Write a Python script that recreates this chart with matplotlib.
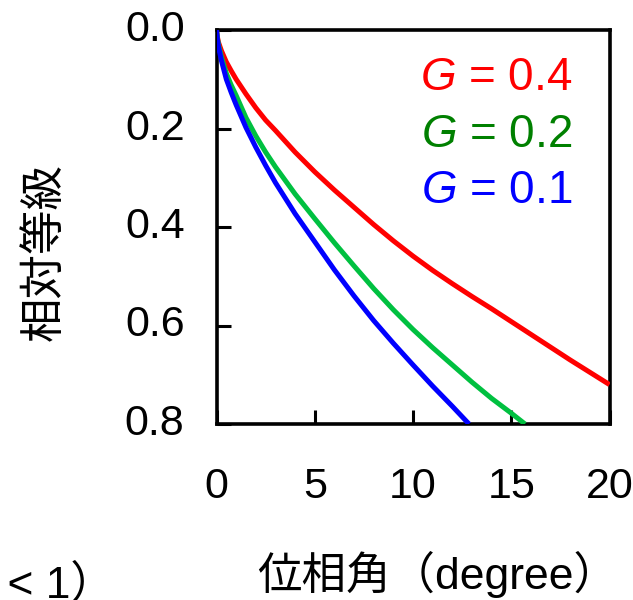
import matplotlib
matplotlib.use("Agg")
import matplotlib.pyplot as plt

# Data
x_red = [0, 0.05, 0.1, 0.25, 0.5, 0.75, 1, 1.5, 2, 2.5, 3, 4, 5, 6, 7, 8, 9, 10, 11, 12, 13, 14, 15, 16, 17, 18, 19, 20]
y_red = [0, 0.015, 0.025, 0.042, 0.065, 0.083, 0.1, 0.13, 0.158, 0.183, 0.204, 0.248, 0.288,
         0.325, 0.36, 0.395, 0.428, 0.459, 0.488, 0.515, 0.541, 0.566, 0.592, 0.618, 0.644, 0.67, 0.695, 0.72]

x_green = [0, 0.05, 0.1, 0.25, 0.5, 0.75, 1, 1.5, 2, 2.5, 3, 4, 5, 6, 7, 8, 9, 10, 11, 12, 13, 14, 15, 15.7]
y_green = [0, 0.018, 0.03, 0.055, 0.088, 0.112, 0.133, 0.178, 0.215, 0.248, 0.278, 0.333, 0.383, 0.432,
           0.479, 0.525, 0.568, 0.608, 0.645, 0.68, 0.715, 0.748, 0.778, 0.8]

x_blue = [0, 0.05, 0.1, 0.25, 0.5, 0.75, 1, 1.5, 2, 2.5, 3, 4, 5, 6, 7, 8, 9, 10, 11, 12, 12.85]
y_blue = [0, 0.02, 0.034, 0.062, 0.1, 0.127, 0.152, 0.198, 0.238, 0.275, 0.31, 0.373, 0.43, 0.487,
          0.54, 0.59, 0.636, 0.68, 0.723, 0.764, 0.8]

labels = ["0.4", "0.2", "0.1"]
label_colors = ["#ff0000", "#008000", "#0000ff"]
line_colors = ["#ff0000", "#00c040", "#0000ff"]

x_ticks = [0, 5, 10, 15, 20]
y_ticks = [0.0, 0.2, 0.4, 0.6, 0.8]

plt.rcParams['font.family'] = ['Liberation Sans', 'Noto Sans CJK JP', 'DejaVu Sans']
plt.rcParams['mathtext.fontset'] = 'custom'
plt.rcParams['mathtext.it'] = 'Liberation Sans:italic'
plt.rcParams['mathtext.rm'] = 'Liberation Sans'

W, H = 633, 600
fig = plt.figure(figsize=(W / 100, H / 100), dpi=100)
left, right, top, bottom = 216.5, 609.5, 30, 424
ax = fig.add_axes([left / W, 1 - bottom / H, (right - left) / W, (bottom - top) / H])

for xs, ys, c in [(x_red, y_red, line_colors[0]),
                  (x_green, y_green, line_colors[1]),
                  (x_blue, y_blue, line_colors[2])]:
    ax.plot(xs, ys, color=c, lw=3.6, solid_capstyle='butt', solid_joinstyle='round', zorder=3)

ax.set_xlim(0, 20)
ax.set_ylim(0.8, 0.0)
ax.set_xticks(x_ticks)
ax.set_xticklabels([str(v) for v in x_ticks])
ax.set_yticks(y_ticks)
ax.set_yticklabels([f"{v:.1f}" for v in y_ticks])
ax.tick_params(direction='in', length=10, width=2.2, labelsize=31)
ax.tick_params(axis='x', pad=31)
ax.tick_params(axis='y', pad=23)
for t in ax.get_yticklabels():
    t.set_verticalalignment('center')
for s in ax.spines.values():
    s.set_linewidth(2.6)

# legend-like texts
ys_text = [90, 147, 203]
for lab, col, yp in zip(labels, label_colors, ys_text):
    fig.text(572 / W, 1 - yp / H, r"$\it{G}$" + " = " + lab,
             ha='right', va='baseline', color=col, fontsize=33)

fig.text(438 / W, 1 - 589 / H, "位相角（degree）", ha='center', va='baseline', fontsize=32)
fig.text(45 / W, 1 - 252 / H, "相対等級", ha='center', va='center', rotation=90, fontsize=32)
fig.text(115 / W, 1 - 598 / H, "(0 < G < 1）", ha='right', va='baseline', fontsize=32)

fig.savefig("out.png", dpi=100)
